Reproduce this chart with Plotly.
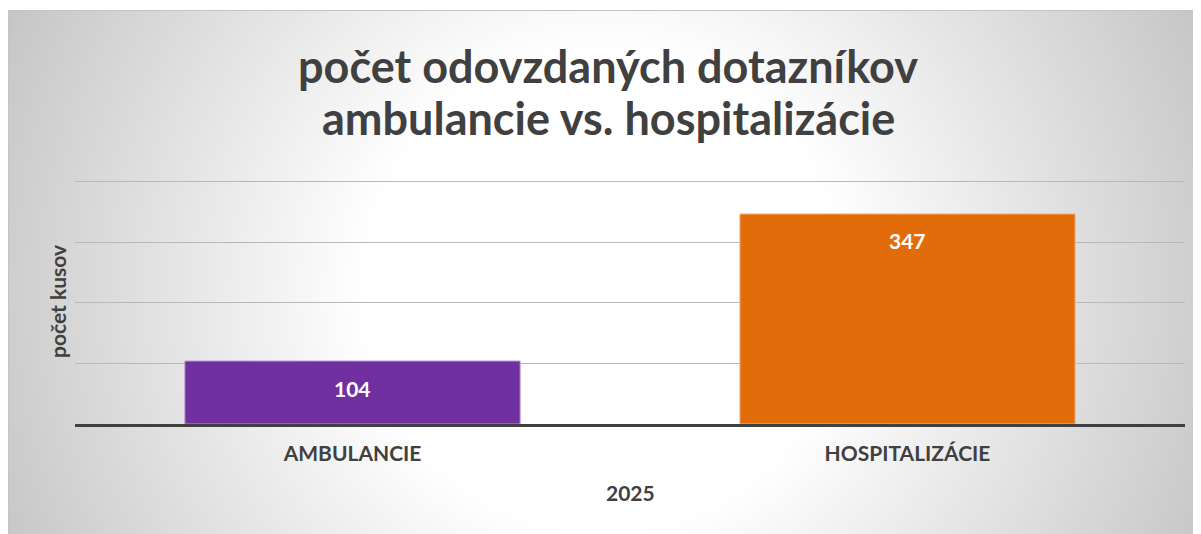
import base64
import plotly.graph_objects as go

categories = ["AMBULANCIE", "HOSPITALIZÁCIE"]
values = [104, 347]
bar_colors = ["#7030A0", "#E36C0A"]
bar_edge_colors = ["#B896D6", "#F3B68A"]
title_lines = ["počet odovzdaných dotazníkov", "ambulancie vs. hospitalizácie"]
y_title = "počet kusov"
x_title = "2025"
y_range = [0, 403]
y_ticks = [0, 100, 200, 300, 400]

W, H = 1201, 534
ML, MR, MT, MB = 67, 24, 172, 118
PW = W - ML - MR
PH = H - MT - MB

FONT = "Lato"
TXT = "#404040"


def py(fig_y):
    """figure pixel y -> paper y"""
    return 1 - (fig_y - MT) / PH


def px(fig_x):
    return (fig_x - ML) / PW


svg = f'''<svg xmlns="http://www.w3.org/2000/svg" width="{W}" height="{H}" viewBox="0 0 {W} {H}">
<defs><radialGradient id="g" gradientUnits="userSpaceOnUse" cx="596" cy="282" r="720">
<stop offset="0" stop-color="#ffffff"/><stop offset="0.33" stop-color="#ffffff"/>
<stop offset="1" stop-color="#bdbdbd"/></radialGradient></defs>
<rect x="0" y="0" width="{W}" height="{H}" fill="#ffffff"/>
<rect x="0.5" y="2.5" width="{W}" height="{H}" fill="url(#g)" stroke="#c4c4c4" stroke-width="1"/>
</svg>'''
src = "data:image/svg+xml;base64," + base64.b64encode(svg.encode("utf-8")).decode()

fig = go.Figure()
fig.add_trace(go.Bar(
    x=categories, y=values,
    marker=dict(color=bar_colors, line=dict(color=bar_edge_colors, width=1)),
    width=0.604, hoverinfo="skip",
))

annotations = []
for c, v in zip(categories, values):
    annotations.append(dict(x=c, y=v, xref="x", yref="y", text=f"<b>{v}</b>",
                            showarrow=False, yshift=-27,
                            font=dict(family=FONT, size=21, color="#ffffff")))
annotations.append(dict(x=px(49), y=0.5 + (py(295) - 0.5) * 0, xref="paper", yref="paper",
                        text=f"<b>{y_title}</b>",
                        textangle=-90, showarrow=False, xanchor="center", yanchor="middle",
                        font=dict(family=FONT, size=21, color=TXT)))
annotations.append(dict(x=0.5, y=py(484), xref="paper", yref="paper", text=f"<b>{x_title}</b>",
                        showarrow=False, xanchor="center", yanchor="middle",
                        font=dict(family=FONT, size=21, color=TXT)))
for line, fy in zip(title_lines, [58, 110]):
    annotations.append(dict(x=px(W / 2 - 0.5), y=py(fy), xref="paper", yref="paper",
                            text=f"<b>{line}</b>", showarrow=False,
                            xanchor="center", yanchor="middle",
                            font=dict(family=FONT, size=45, color=TXT)))

fig.update_layout(
    width=W, height=H,
    margin=dict(l=ML, r=MR, t=MT, b=MB),
    paper_bgcolor="rgba(0,0,0,0)", plot_bgcolor="rgba(0,0,0,0)",
    showlegend=False,
    images=[dict(source=src, xref="paper", yref="paper", x=-ML / PW, y=1 + MT / PH,
                 sizex=W / PW, sizey=H / PH, xanchor="left", yanchor="top",
                 sizing="stretch", layer="below")],
    annotations=annotations,
    xaxis=dict(showline=True, linecolor="#404040", linewidth=3, showgrid=False,
               ticks="outside", ticklen=9, tickcolor="rgba(0,0,0,0)",
               tickprefix="<b>", ticksuffix="</b>",
               tickfont=dict(family=FONT, size=21, color=TXT), fixedrange=True),
    yaxis=dict(range=y_range, tickvals=y_ticks, showticklabels=False, showgrid=True,
               gridcolor="#b8b8b8", gridwidth=1, zeroline=False, fixedrange=True),
    bargap=0.396,
)

fig.write_html("out.html")
